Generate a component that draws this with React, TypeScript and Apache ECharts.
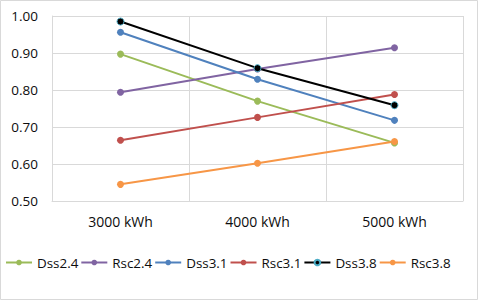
import React, { useEffect, useRef } from "react";
import * as echarts from "echarts";

const categories = ["3000 kWh", "4000 kWh", "5000 kWh"];
const seriesNames = ["Dss2.4", "Rsc2.4", "Dss3.1", "Rsc3.1", "Dss3.8", "Rsc3.8"];
const dss24 = [0.897, 0.77, 0.657];
const rsc24 = [0.794, 0.857, 0.914];
const dss31 = [0.956, 0.829, 0.718];
const rsc31 = [0.664, 0.726, 0.788];
const dss38 = [0.985, 0.859, 0.759];
const rsc38 = [0.545, 0.602, 0.661];
const seriesData = [dss24, rsc24, dss31, rsc31, dss38, rsc38];
const colors = ["#9BBB59", "#8064A2", "#4F81BD", "#C0504D", "#000000", "#F79646"];
const yTicks = { min: 0.5, max: 1.0, interval: 0.1 };

const FONT = "'Open Sans', sans-serif";
const TEXT = "#0d0d0d";

export default function App() {
  const ref = useRef<HTMLDivElement>(null);
  useEffect(() => {
    if (!ref.current) return;
    const chart = echarts.init(ref.current, undefined, { renderer: "svg" });
    chart.setOption({
      animation: false,
      backgroundColor: "#ffffff",
      textStyle: { fontFamily: FONT },
      grid: { left: 52, right: 16, top: 16, bottom: 100, containLabel: false },
      legend: {
        top: 256,
        left: 5,
        itemWidth: 26,
        itemHeight: 7,
        itemGap: 2,
        padding: 0,
        textStyle: { fontFamily: FONT, fontSize: 13.4, color: TEXT },
        data: seriesNames,
      },
      xAxis: {
        type: "category",
        data: categories,
        boundaryGap: true,
        axisLine: { show: true, lineStyle: { color: "#d9d9d9", width: 1 } },
        axisTick: { show: false },
        axisLabel: { fontFamily: FONT, fontSize: 14, color: TEXT, margin: 13 },
        splitLine: { show: true, interval: 0, lineStyle: { color: "#d9d9d9", width: 1 } },
      },
      yAxis: {
        type: "value",
        min: yTicks.min,
        max: yTicks.max,
        interval: yTicks.interval,
        axisLine: { show: true, lineStyle: { color: "#d9d9d9", width: 1 } },
        axisTick: { show: false },
        axisLabel: {
          fontFamily: FONT,
          fontSize: 13.5,
          color: TEXT,
          margin: 14,
          formatter: (v: number) => v.toFixed(2),
        },
        splitLine: { show: true, lineStyle: { color: "#d9d9d9", width: 1 } },
      },
      graphic: [
        {
          type: "rect",
          shape: { x: 0.5, y: 0.5, width: 477, height: 299 },
          style: { fill: "none", stroke: "#d9d9d9", lineWidth: 1 },
          silent: true,
        },
      ],
      series: seriesNames.map((name, i) => ({
        name,
        type: "line",
        data: seriesData[i],
        symbol: "circle",
        symbolSize: 7,
        color: colors[i],
        lineStyle: { color: colors[i], width: 2 },
        itemStyle:
          name === "Dss3.8"
            ? { color: "#000000", borderColor: "#4BACC6", borderWidth: 1 }
            : { color: colors[i], borderWidth: 0 },
      })),
    });
    return () => chart.dispose();
  }, []);
  return (
    <div
      ref={ref}
      style={{ position: "absolute", left: 0, top: 0, width: 479, height: 301 }}
    />
  );
}
